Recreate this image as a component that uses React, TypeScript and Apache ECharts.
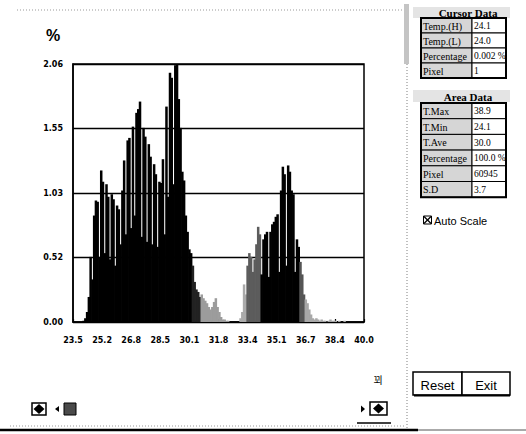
import React, { useEffect, useRef } from "react";
import * as echarts from "echarts";

// Histogram bins: temperature of the first bin and bin width (°C)
const binStart = 24.1;
const binStep = 0.1;
// Percentage of pixels per 0.1 °C bin, 24.1 … 38.9 °C
const percent = [
  0.01, 0.03, 0.08, 0.2, 0.52, 0.34, 0.85, 0.97, 0.96, 0.52,
  1.21, 1.12, 0.55, 1.1, 1.0, 0.5, 1.02, 0.98, 0.45, 0.93,
  0.9, 0.62, 1.05, 1.29, 0.7, 1.45, 1.47, 0.75, 1.56, 0.85,
  1.67, 1.7, 1.76, 0.68, 1.55, 1.48, 0.64, 1.42, 1.32, 0.62,
  1.26, 1.18, 0.6, 1.12, 1.11, 1.3, 0.7, 1.72, 1.0, 1.99,
  1.95, 1.1, 2.05, 2.06, 1.78, 1.55, 1.2, 1.13, 0.85, 0.72,
  0.58, 0.55, 0.45, 0.32, 0.26, 0.24, 0.2, 0.22, 0.19, 0.17,
  0.15, 0.12, 0.1, 0.12, 0.16, 0.19, 0.12, 0.08, 0.04, 0.02,
  0.02, 0.01, 0.01, 0, 0, 0, 0, 0, 0, 0.03,
  0.08, 0.3, 0.22, 0.45, 0.55, 0.52, 0.4, 0.5, 0.62, 0.76,
  0.7, 0.38, 0.66, 0.7, 0.72, 0.36, 0.72, 0.78, 0.8, 0.84,
  0.86, 0.4, 1.05, 1.24, 1.18, 0.45, 1.25, 1.2, 1.05, 1.02,
  0.4, 0.66, 0.6, 0.48, 0.38, 0.22, 0.18, 0.15, 0.1, 0.06,
  0.03, 0.02, 0.03, 0.02, 0.01, 0.02, 0.01, 0.01, 0, 0.01,
  0.02, 0.01, 0.01, 0.01, 0, 0.01, 0, 0, 0.01,
];

// X axis: 23.5 … 40.0 in 10 equal steps
const xAxisStart = 23.5;
const xAxisStep = 1.65;
const xTickLabels = ["23.5", "25.2", "26.8", "28.5", "30.1", "31.8", "33.4", "35.1", "36.7", "38.4", "40.0"];
// Y axis: 0 … 2.06 % in 4 steps
const yStep = 0.515;
const yMax = 2.06;
const yTickLabels = ["0.00", "0.52", "1.03", "1.55", "2.06"];

const cursorLabels = ["Temp.(H)", "Temp.(L)", "Percentage", "Pixel"];
const cursorValues = ["24.1", "24.0", "0.002 %", "1"];
const areaLabels = ["T.Max", "T.Min", "T.Ave", "Percentage", "Pixel", "S.D"];
const areaValues = ["38.9", "24.1", "30.0", "100.0 %", "60945", "3.7"];

function shade(t: number): string {
  if (t < 30.25) return "#000";
  if (t < 30.75) return "#222";
  if (t < 32.5) return "#9c9c9c";
  if (t < 33.35) return "#aaaaaa";
  if (t < 34.15) return "#5c5c5c";
  if (t < 36.35) return "#000";
  if (t < 36.65) return "#555";
  return "#a8a8a8";
}

function txt(x: number, y: number, text: string, font: string, align = "left", fill = "#000"): any {
  return {
    type: "text",
    x,
    y,
    silent: true,
    style: {
      text,
      font,
      fill,
      align,
      textAlign: align,
      verticalAlign: "middle",
      textVerticalAlign: "middle",
    },
  };
}

function rect(x: number, y: number, w: number, h: number, style: any): any {
  return { type: "rect", silent: true, shape: { x, y, width: w, height: h }, style };
}

function line(x1: number, y1: number, x2: number, y2: number, style: any): any {
  return { type: "line", silent: true, shape: { x1, y1, x2, y2 }, style };
}

function table(x: number, y: number, w: number, labelW: number, rowH: number, labels: string[], values: string[]): any[] {
  const els: any[] = [];
  labels.forEach((lab, i) => {
    const ry = y + i * rowH;
    els.push(rect(x, ry, labelW, rowH, { fill: "#d6d6d6", stroke: "#000", lineWidth: 1 }));
    els.push(rect(x + labelW, ry, w - labelW, rowH, { fill: "#fff", stroke: "#000", lineWidth: 1 }));
    els.push(txt(x + 2, ry + rowH / 2 + 0.5, lab, "10px 'Liberation Serif'"));
    els.push(txt(x + labelW + 2, ry + rowH / 2 + 0.5, values[i], "9.5px 'Liberation Serif'"));
  });
  els.push(rect(x, y, w, rowH * labels.length, { fill: "none", stroke: "#000", lineWidth: 2 }));
  return els;
}

function diamondBox(x: number, y: number, w: number, h: number): any[] {
  const cx = x + w / 2;
  const cy = y + h / 2;
  return [
    rect(x, y, w, h, { fill: "#fff", stroke: "#000", lineWidth: 1.5 }),
    {
      type: "polygon",
      silent: true,
      shape: { points: [[cx, cy - 5], [cx + 5.5, cy], [cx, cy + 5], [cx - 5.5, cy]] },
      style: { fill: "#000" },
    },
  ];
}

export default function App() {
  const ref = useRef<HTMLDivElement>(null);

  useEffect(() => {
    const chart = echarts.init(ref.current!, null, { renderer: "svg" });

    const data = percent.map((v, i) => {
      const t = binStart + i * binStep;
      return {
        value: [(t - xAxisStart) / xAxisStep, v],
        itemStyle: { color: shade(t) },
      };
    });

    const graphics: any[] = [
      // frame decorations
      line(17, 10, 402, 10, { stroke: "#999", lineWidth: 1, lineDash: [1, 2] }),
      rect(404, 4, 5, 60, { fill: "#c4c4c4" }),
      line(407, 64, 407, 428, { stroke: "#aaa", lineWidth: 1.5, lineDash: [1, 2] }),
      line(10, 426, 405, 426, { stroke: "#999", lineWidth: 1, lineDash: [1, 2] }),
      line(0, 430, 418, 430, { stroke: "#000", lineWidth: 2.5 }),
      line(418, 430, 526, 430, { stroke: "#555", lineWidth: 1 }),
      // unit
      txt(46, 35, "%", "bold 16px 'Liberation Sans'"),
      // Cursor Data panel
      rect(413, 7, 97, 11, { fill: "#e4e4e4" }),
      txt(468, 13, "Cursor Data", "bold 11px 'Liberation Serif'", "center"),
      ...table(421, 18, 85, 51, 15, cursorLabels, cursorValues),
      // Area Data panel
      rect(413, 90, 97, 12, { fill: "#e4e4e4" }),
      txt(468, 96.5, "Area Data", "bold 11px 'Liberation Serif'", "center"),
      ...table(421, 103, 85, 51, 15.7, areaLabels, areaValues),
      // Auto Scale checkbox
      rect(423.5, 216, 8, 8, { fill: "#fff", stroke: "#000", lineWidth: 1 }),
      line(424, 216.5, 431, 223.5, { stroke: "#000", lineWidth: 1.2 }),
      line(431, 216.5, 424, 223.5, { stroke: "#000", lineWidth: 1.2 }),
      txt(434, 220.5, "Auto Scale", "11px 'Liberation Sans'"),
      // buttons
      rect(413, 372, 49, 23, { fill: "#fff", stroke: "#000", lineWidth: 1.5 }),
      rect(462, 372, 48, 23, { fill: "#fff", stroke: "#000", lineWidth: 1.5 }),
      line(414, 395.5, 510, 395.5, { stroke: "#000", lineWidth: 2 }),
      txt(437.5, 385, "Reset", "13px 'Liberation Sans'", "center"),
      txt(486, 385, "Exit", "13px 'Liberation Sans'", "center"),
      // small glyph
      txt(378, 379, "꾀", "10px 'Noto Sans CJK KR'", "center"),
      // slider handles
      ...diamondBox(32, 403, 14, 12),
      {
        type: "polygon",
        silent: true,
        shape: { points: [[55, 409], [59, 406], [59, 412]] },
        style: { fill: "#000" },
      },
      rect(64, 403, 12, 12, { fill: "#4a4a4a", stroke: "#000", lineWidth: 1 }),
      {
        type: "polygon",
        silent: true,
        shape: { points: [[361, 405.5], [365, 409], [361, 412.5]] },
        style: { fill: "#000" },
      },
      ...diamondBox(370, 402, 17, 13),
      line(357, 423, 391, 423, { stroke: "#000", lineWidth: 1.5 }),
    ];

    chart.setOption({
      animation: false,
      backgroundColor: "#fff",
      grid: {
        left: 73,
        right: 162,
        top: 64,
        bottom: 112,
        show: true,
        borderColor: "#000",
        borderWidth: 1.5,
        backgroundColor: "transparent",
      },
      xAxis: {
        type: "value",
        min: 0,
        max: 10,
        interval: 1,
        axisLine: { show: true, lineStyle: { color: "#000", width: 1.5 } },
        axisTick: { show: true, inside: true, length: 3, lineStyle: { color: "#000", width: 1.2 } },
        splitLine: { show: false },
        axisLabel: {
          margin: 14,
          color: "#000",
          fontSize: 8,
          fontWeight: "bold",
          fontFamily: "DejaVu Sans",
          formatter: (v: number) => xTickLabels[Math.round(v)] ?? "",
        },
      },
      yAxis: {
        type: "value",
        min: 0,
        max: yMax,
        interval: yStep,
        axisLine: { show: true, lineStyle: { color: "#000", width: 1.5 } },
        axisTick: { show: false },
        splitLine: { show: true, lineStyle: { color: "#000", width: 1.3 } },
        axisLabel: {
          margin: 10,
          color: "#000",
          fontSize: 8,
          fontWeight: "bold",
          fontFamily: "DejaVu Sans",
          formatter: (v: number) => yTickLabels[Math.round(v / yStep)] ?? "",
        },
      },
      series: [
        {
          type: "bar",
          data,
          barWidth: 2.5,
          silent: true,
          itemStyle: { color: "#000" },
        },
      ],
      graphic: graphics,
    });

    return () => chart.dispose();
  }, []);

  return (
    <div
      ref={ref}
      style={{ position: "fixed", left: 0, top: 0, width: 526, height: 434, background: "#fff" }}
    />
  );
}
